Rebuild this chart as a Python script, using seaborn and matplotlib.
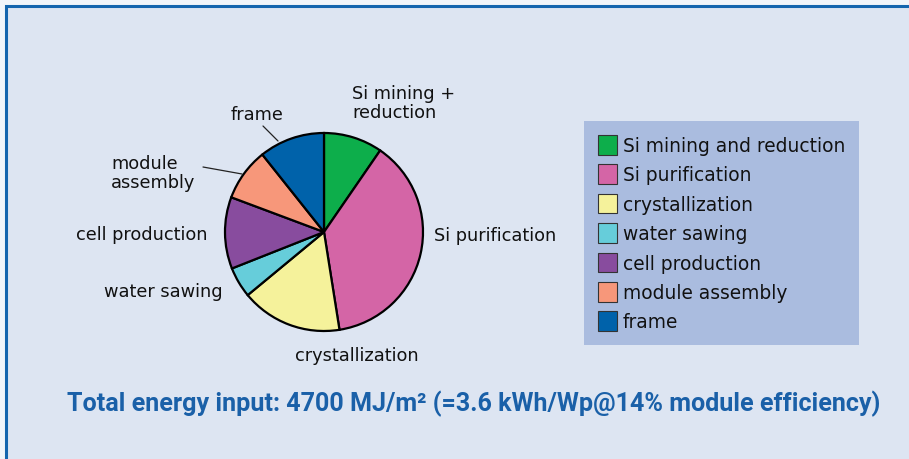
import matplotlib
matplotlib.use("Agg")
import matplotlib.pyplot as plt
import seaborn as sns
from matplotlib.patches import Rectangle

# ---- data ----
categories = ["Si mining and reduction", "Si purification", "crystallization",
              "water sawing", "cell production", "module assembly", "frame"]
shares = [9.6, 37.9, 16.5, 5.0, 11.7, 8.6, 10.7]
pie_labels = ["Si mining +\nreduction", "Si purification", "crystallization",
              "water sawing", "cell production", "module\nassembly", "frame"]
colors = ["#0DAE4B", "#D465A6", "#F5F29B", "#66CDDA", "#884C9E", "#F7977A", "#0062AA"]
title_text = "Total energy input: 4700 MJ/m² (=3.6 kWh/Wp@14% module efficiency)"

sns.set_theme(style="white")
plt.rcParams['font.family'] = ['DejaVu Sans']
plt.rcParams['text.color'] = '#111111'

BG = "#DDE5F2"
W, H = 909, 460
fig = plt.figure(figsize=(W / 100, H / 100), dpi=100, facecolor="#F2F5FA")

# frame
fig.patches.append(Rectangle((5.5 / W, -0.1), 1.2, 1.1 - 7 / H, transform=fig.transFigure,
                             facecolor=BG, edgecolor="#1565AE", linewidth=2.2, zorder=-5))

# pie axes: center (324,233) px, radius 99 px
R = 99
cx, cy = 324, 233
half = 1.3
ax = fig.add_axes([(cx - half * R) / W, (H - cy - half * R) / H, 2 * half * R / W, 2 * half * R / H])
ax.set_zorder(2)
ax.axis("off")
ax.patch.set_alpha(0)

pal = sns.color_palette(colors)
wedges, _ = ax.pie(shares, colors=pal, startangle=90, counterclock=False, radius=1.0,
                   wedgeprops=dict(edgecolor="black", linewidth=1.6))
ax.set_xlim(-half, half)
ax.set_ylim(-half, half)
ax.set_aspect("equal")

def d(px, py):
    return ((px - cx) / R, (cy - py) / R)

fs = 12.8
label_pos = [((352, 103.5), "left"), ((434, 236), "left"), ((356.5, 356), "center"),
             ((223, 292), "right"), ((208, 235), "right"), ((111, 173.5), "left"),
             ((257, 115), "center")]
for lab, ((px, py), ha) in zip(pie_labels, label_pos):
    x, y = d(px, py)
    ax.text(x, y, lab, ha=ha, va="center", fontsize=fs, color="#111111", linespacing=1.1)

for (p0, p1) in [((263, 127), (278, 142)), ((203, 168), (242, 175))]:
    (x0, y0), (x1, y1) = d(*p0), d(*p1)
    ax.plot([x0, x1], [y0, y1], color="#222222", linewidth=0.9)

# legend
leg = fig.legend(wedges, categories, loc="upper left",
                 bbox_to_anchor=(584 / W, 1 - 122 / H), bbox_transform=fig.transFigure,
                 frameon=True, fancybox=False, fontsize=13.4, handlelength=1.0,
                 handleheight=1.25, handletextpad=0.35, labelspacing=0.5,
                 borderpad=0.75, borderaxespad=0.0, labelcolor="#111111")
fr = leg.get_frame()
fr.set_facecolor("#AABCDF")
fr.set_edgecolor("none")
fr.set_alpha(1)
for h in leg.legend_handles:
    h.set_linewidth(0.8)
    h.set_edgecolor("#333333")

fig.text(473.5 / W, 1 - 404 / H, title_text, ha="center", va="center",
         fontsize=18.1, fontweight="bold", color="#1A60A8",
         family=["Roboto", "DejaVu Sans"])

fig.savefig("out.png", dpi=100, facecolor=fig.get_facecolor())
